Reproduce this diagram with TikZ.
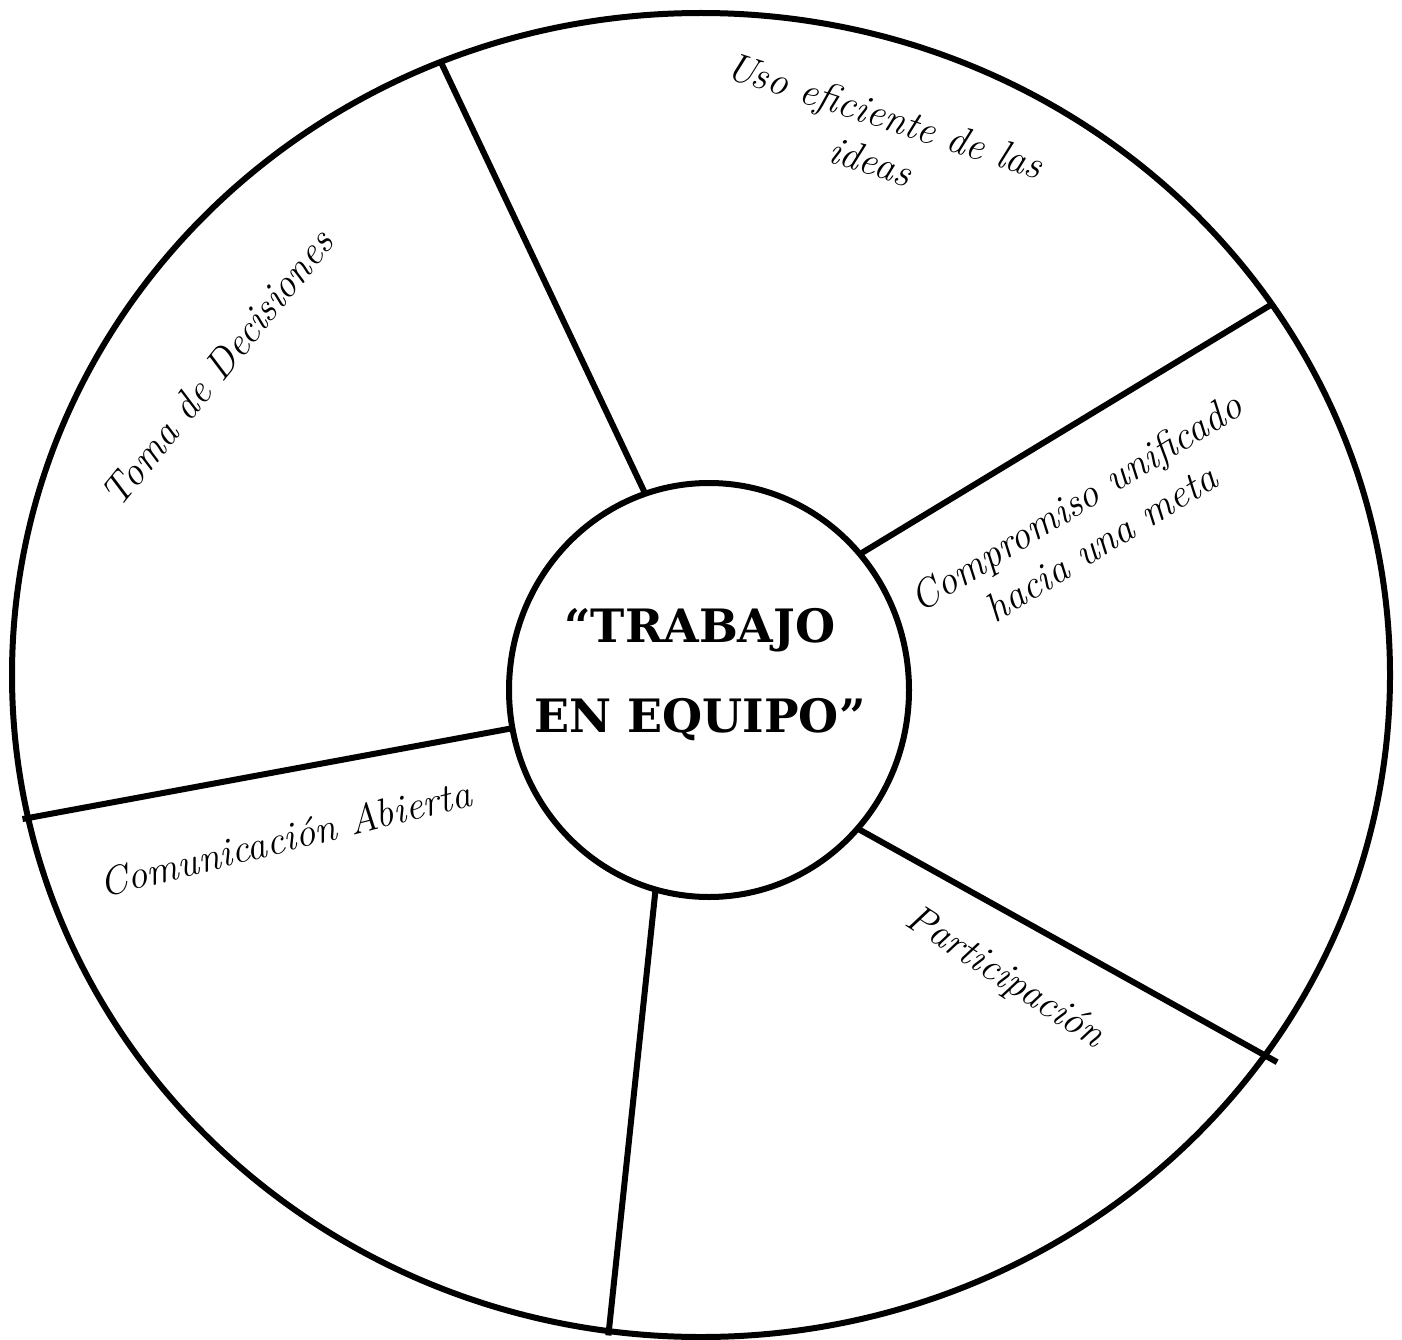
\documentclass[tikz,border=0pt]{standalone}
\usepackage{fontspec}
\usepackage{tikz}
\usetikzlibrary{calc,shapes.geometric}
\newfontfamily\titlefont{DejaVu Serif}
\definecolor{ink}{HTML}{000000}
\tikzset{
  rimEdge/.style={draw=ink, line width=6pt, ellipse, inner sep=0pt, outer sep=0pt},
  spokeLine/.style={draw=ink, line width=6pt},
  itemLbl/.style={text=ink, font=\fontsize{40}{48}\selectfont\itshape, align=center, inner sep=0pt},
  titleLbl/.style={text=ink, font=\titlefont\bfseries\fontsize{46}{90}\selectfont, align=center, inner sep=0pt},
}

\begin{document}
\begin{tikzpicture}[x=1pt, y=-1pt]
  \useasboundingbox (0,0) rectangle (1402,1340);

  % outer wheel and hub
  \node[rimEdge, minimum width=1378pt, minimum height=1324pt] (wheel) at (701,675) {};
  \node[rimEdge, minimum width=400pt, minimum height=414pt] (hub) at (709,690) {};
  \node[titleLbl] (title) at (700,675) {“TRABAJO\\EN EQUIPO”};

  % spokes
  \draw[spokeLine] (hub.108) -- (wheel.113.6);
  \draw[spokeLine] (hub.42.7) -- (wheel.33.6);
  \draw[spokeLine] (hub.-43.2) -- ($(hub.-43.2)!1.03!(wheel.-34.6)$);
  \draw[spokeLine] (hub.-105.9) -- ($(hub.-105.9)!1.01!(wheel.-98.3)$);
  \draw[spokeLine] (hub.191.9) -- ($(hub.191.9)!1.012!(wheel.192.7)$);

  % sector labels
  \node[itemLbl, rotate=-18] (ideas)    at (878,138)  {Uso eficiente de las\\ideas};
  \node[itemLbl, rotate=31.6] (meta)    at (1088,522) {Compromiso unificado\\hacia una meta};
  \node[itemLbl, rotate=-33] (partic)   at (1005,978) {Participación};
  \node[itemLbl, rotate=14] (comunic)   at (285,838)  {Comunicación Abierta};
  \node[itemLbl, rotate=51] (decision)  at (217,368)  {Toma de Decisiones};
\end{tikzpicture}
\end{document}
